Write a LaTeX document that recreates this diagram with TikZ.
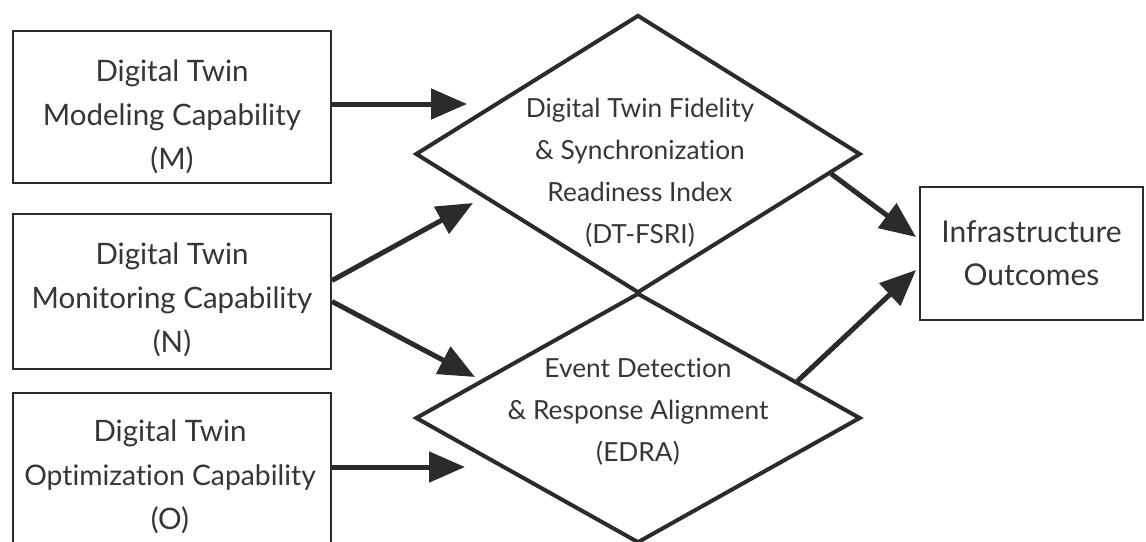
\documentclass[tikz,border=0pt]{standalone}
\usepackage{fontspec}
\setmainfont{Lato}[Ligatures={NoCommon}]
\usetikzlibrary{shapes.geometric,arrows.meta,calc}
\definecolor{ink}{HTML}{2B2B2B}
\definecolor{txt}{HTML}{363636}
\begin{document}
\begin{tikzpicture}[x=1pt,y=-1pt,
  capbox/.style={draw=ink, line width=2pt, minimum width=318pt, minimum height=152pt, inner sep=0pt},
  boxtext/.style={align=center, text=txt, inner sep=0pt, font=\fontsize{29.5}{44}\selectfont},
  outbox/.style={draw=ink, line width=2pt, minimum width=223pt, minimum height=133pt, inner sep=0pt, align=center, text=txt, font=\fontsize{30}{43}\selectfont},
  dia/.style={draw=ink, line width=4pt, shape=diamond, inner sep=0pt},
  diatext/.style={align=center, text=txt, inner sep=0pt, font=\fontsize{26.3}{42}\selectfont},
  flow/.style={draw=ink, line width=5pt, -{Triangle[length=36pt,width=30pt]}}
]
\useasboundingbox (0,0) rectangle (1146,541);
\clip (0,0) rectangle (1146,541);
\fill[white] (0,0) rectangle (1146,541);

% left boxes
\node[capbox] (M) at (172,107) {};
\node[capbox, minimum height=155pt] (N) at (172,291.5) {};
\node[capbox] (O) at (172,469) {};
\node[boxtext] (Mt) at ($(M)+(0,10)$) {Digital Twin\\Modeling Capability\\(M)};
\node[boxtext] (Nt) at ($(N)+(0,8)$) {Digital Twin\\Monitoring Capability\\(N)};
\node[boxtext] (Ot) at ($(O)+(-2,8)$) {Digital Twin\\{\fontsize{28.3}{44}\selectfont Optimization Capability}\\(O)};

% diamonds
\node[dia, minimum width=445pt, minimum height=278pt] (D1) at (638,154) {};
\node[dia, minimum width=445pt, minimum height=250pt] (D2) at (638,418) {};
\node[diatext] (D1t) at (640,173) {Digital Twin Fidelity\\\& Synchronization\\Readiness Index\\(DT-FSRI)};
\node[diatext] (D2t) at (638,412) {Event Detection\\\& Response Alignment\\(EDRA)};

% outcome box
\node[outbox] (Out) at (1031.5,253.5) {Infrastructure\\Outcomes};

% arrow end points
\coordinate (tM) at (467,104);
\coordinate (tN1) at (473,203);
\coordinate (tN2) at (475,377);
\coordinate (tO) at (465,467);
\coordinate (s1) at ($(D1.east)!0.14!(D1.south)$);
\coordinate (s2) at ($(D2.east)!0.29!(D2.north)$);

\draw[flow] ($(M.east)+(0,-3)$) -- (tM);
\draw[flow] ($(N.east)+(0,-11)$) -- (tN1);
\draw[flow] ($(N.east)+(0,10)$) -- (tN2);
\draw[flow] ($(O.east)+(0,-2)$) -- (tO);
\draw[flow] (s1) -- ($(Out.west)+(-3,-16.5)$);
\draw[flow] (s2) -- ($(Out.west)+(-3,16.5)$);
\end{tikzpicture}
\end{document}
